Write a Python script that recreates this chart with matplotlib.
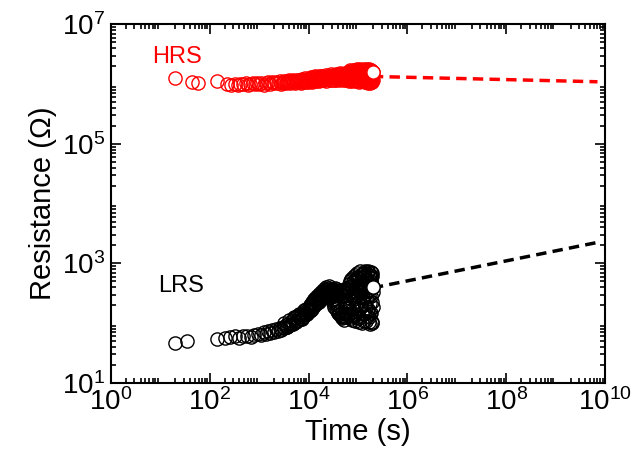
import matplotlib.pyplot as plt
import matplotlib.ticker as mticker
import numpy as np

plt.rcParams['font.family'] = ['Liberation Sans', 'DejaVu Sans']
plt.rcParams['mathtext.fontset'] = 'custom'
plt.rcParams['mathtext.rm'] = 'Liberation Sans'
plt.rcParams['mathtext.it'] = 'Liberation Sans'
plt.rcParams['mathtext.bf'] = 'Liberation Sans'

# HRS retention data (time in s, resistance in Mohm)
hrs_t = [20, 44, 58, 140, 220,
         270, 320, 370, 420, 480, 540, 600, 670, 740, 820, 900, 980,
         1100, 1250, 1400, 1550, 1700, 1850, 2000, 2200, 2400, 2600, 2800, 3000,
         3250, 3500, 3750, 4000, 4300, 4600, 4900, 5200, 5500, 5800, 6100, 6500,
         6900, 7300, 7700, 8100, 8500, 9000, 9500,
         10000, 10800, 11600, 12400, 13200, 14000, 15000, 16000, 17000, 18000,
         19000, 20000, 21500, 23000, 24500, 26000, 27500, 29000, 31000, 33000,
         35000, 37000, 39000, 41000, 43000, 45000, 47500, 50000, 52500, 55000,
         57500, 60000,
         62000, 64000, 66000, 68000, 70000, 72000, 74000, 76000, 78000, 80000,
         83000, 86000, 89000, 92000, 95000, 98000, 101000, 104000, 107000, 110000,
         114000, 118000, 122000, 126000, 130000, 134000, 138000, 142000, 146000,
         150000, 154000, 158000, 162000, 166000, 170000, 174000, 178000, 182000,
         186000, 190000, 194000, 197000, 200000]
hrs_r = [1.26, 1.07, 1.03, 1.12, 1.02,
         0.98, 1.00, 0.97, 1.02, 0.99, 1.03, 0.98, 1.01, 1.04, 0.99, 1.03, 1.00,
         1.05, 0.98, 1.04, 1.07, 1.00, 1.08, 1.03, 1.10, 1.05, 1.12, 1.02, 1.08,
         1.14, 1.06, 1.10, 1.16, 1.04, 1.12, 1.18, 1.08, 1.15, 1.20, 1.10, 1.17,
         1.06, 1.22, 1.12, 1.18, 1.25, 1.10, 1.20,
         1.15, 1.28, 1.10, 1.22, 1.30, 1.14, 1.25, 1.35, 1.18, 1.28,
         1.38, 1.20, 1.32, 1.15, 1.40, 1.26, 1.35, 1.18, 1.42, 1.28,
         1.20, 1.45, 1.32, 1.22, 1.48, 1.30, 1.38, 1.20, 1.50, 1.32,
         1.42, 1.25,
         1.55, 1.35, 1.22, 1.60, 1.42, 1.28, 1.65, 1.38, 1.18, 1.52,
         1.70, 1.30, 1.45, 1.15, 1.62, 1.35, 1.72, 1.25, 1.50, 1.12,
         1.68, 1.40, 1.22, 1.75, 1.30, 1.55, 1.10, 1.70, 1.42,
         1.20, 1.78, 1.35, 1.05, 1.60, 1.25, 1.72, 1.12, 1.50,
         1.08, 1.65, 1.30, 1.20, 1.60]

# second HRS sweep (dense part)
hrs_t2 = [3100, 3600, 4100, 4700, 5300, 5900, 6700, 7500, 8300, 9200, 9800,
          10400, 11200, 12000, 12800, 13600, 14500, 15500, 16500, 17500, 18500,
          19500, 20800, 22200, 23800, 25200, 26800, 28200, 30000, 32000, 34000,
          36000, 38000, 40000, 42000, 44000, 46500, 49000, 51500, 54000, 56500,
          59000,
          61000, 63000, 65000, 67000, 69000, 71000, 73000, 75000, 77000, 79000,
          82000, 85000, 88000, 91000, 94000, 97000, 100000, 103000, 106000,
          109000, 112000, 116000, 120000, 124000, 128000, 132000, 136000, 140000,
          144000, 148000, 152000, 156000, 160000, 164000, 168000, 172000, 176000,
          180000, 184000, 188000, 192000, 196000]
hrs_r2 = [1.06, 1.12, 1.08, 1.15, 1.05, 1.13, 1.18, 1.09, 1.16, 1.22, 1.08,
          1.20, 1.32, 1.14, 1.26, 1.36, 1.20, 1.30, 1.15, 1.40, 1.24,
          1.33, 1.18, 1.43, 1.27, 1.36, 1.20, 1.46, 1.30, 1.40, 1.16,
          1.50, 1.27, 1.36, 1.18, 1.52, 1.24, 1.44, 1.30, 1.56, 1.16,
          1.40,
          1.30, 1.62, 1.45, 1.15, 1.70, 1.36, 1.50, 1.12, 1.66, 1.28,
          1.76, 1.40, 1.20, 1.58, 1.32, 1.80, 1.45, 1.10, 1.62,
          1.28, 1.78, 1.50, 1.15, 1.66, 1.35, 1.80, 1.22, 1.58,
          1.08, 1.70, 1.30, 1.48, 1.14, 1.82, 1.40, 1.06, 1.62,
          1.26, 1.75, 1.18, 1.50, 1.10]

# LRS retention data (time in s, resistance in ohm)
lrs_t = [20, 35, 140, 200, 260, 330, 400, 480, 570, 680, 800, 950,
         1100, 1250, 1400, 1550, 1700, 1850, 2000, 2200, 2400, 2600, 2800, 3000,
         3250, 3500, 3750, 4000, 4300, 4600, 4900, 5200, 5500, 5800, 6100, 6500,
         6900, 7300, 7700, 8100, 8500, 9000, 9500,
         10000, 10500, 11000, 11500, 12000, 12500, 13000, 13600, 14200, 14800,
         15400, 16000, 16700, 17400, 18100, 18800, 19500, 20300, 21100, 21900,
         22700, 23500, 24400, 25300, 26200, 27100, 28000, 29000, 30000,
         31000, 32000, 33000, 34000, 35000, 36000, 37000, 38000, 39000, 40000,
         41500, 43000, 44500, 46000, 47500, 49000, 50500, 52000, 53500, 55000,
         56500, 58000, 59500,
         61000, 63000, 65000, 67000, 69000, 71000, 73000, 75000, 77000, 79000,
         81000, 83000, 85000, 87000, 89000, 91000, 93000, 95000, 97000, 99000,
         101000, 104000, 107000, 110000, 113000, 116000, 119000, 122000, 125000,
         128000, 131000, 134000, 137000, 140000, 143000, 146000, 149000, 152000,
         155000, 158000, 161000, 164000, 167000, 170000, 173000, 176000, 179000,
         182000, 185000, 188000, 191000, 194000, 197000, 200000]
lrs_r = [47, 50, 55, 57, 58, 60, 57, 62, 60, 58, 63, 66,
         64, 70, 66, 73, 69, 76, 72, 80, 75, 84, 78, 88,
         82, 95, 86, 102, 92, 110, 97, 120, 104, 130, 112, 140,
         118, 150, 125, 165, 135, 175, 145,
         190, 160, 210, 175, 230, 185, 250, 200, 275, 215,
         300, 230, 320, 245, 290, 340, 260, 380, 270, 330,
         400, 285, 350, 310, 420, 290, 360, 320, 300,
         280, 330, 250, 360, 220, 340, 200, 320, 180, 300,
         160, 350, 140, 310, 125, 330, 130, 290, 200, 145,
         340, 180, 380,
         230, 320, 190, 380, 260, 150, 420, 300, 210, 480,
         170, 350, 250, 520, 140, 400, 290, 600, 180, 450,
         230, 560, 120, 330, 650, 200, 470, 150, 700,
         260, 380, 110, 620, 310, 180, 540, 130, 420,
         250, 720, 160, 480, 105, 360, 650, 220, 140,
         560, 290, 100, 440, 680, 190, 410]

# second LRS sweep (dense part)
lrs_t2 = [3200, 3600, 4100, 4500, 5100, 5700, 6300, 7000, 7500, 8300, 8800,
          9300, 9800,
          10200, 10800, 11300, 11800, 12300, 12800, 13300, 13900, 14500, 15100,
          15700, 16300, 17000, 17700, 18500, 19200, 20000, 20700, 21500, 22300,
          23100, 24000, 24800, 25700, 26600, 27600, 28500, 29500,
          30500, 31500, 32500, 33500, 34500, 35500, 36500, 37500, 38500, 39500,
          40500, 42000, 43500, 45000, 46500, 48000, 49500, 51000, 52500, 54000,
          55500, 57000, 58500, 60000,
          62000, 64000, 66000, 68000, 70000, 72000, 74000, 76000, 78000, 80000,
          82000, 84000, 86000, 88000, 90000, 92000, 94000, 96000, 98000, 100000,
          103000, 106000, 109000, 112000, 115000, 118000, 121000, 124000, 127000,
          130000, 133000, 136000, 139000, 142000, 145000, 148000, 151000, 154000,
          157000, 160000, 163000, 166000, 169000, 172000, 175000, 178000, 181000,
          184000, 187000, 190000, 193000, 196000, 199000]
lrs_r2 = [100, 88, 115, 98, 125, 108, 128, 135, 118, 150, 140,
          160, 170,
          175, 200, 165, 220, 195, 240, 210, 260, 230, 250,
          280, 260, 300, 270, 310, 280, 350, 300, 360, 320,
          380, 340, 300, 390, 330, 270, 350, 240,
          380, 220, 360, 190, 390, 170, 340, 160, 370, 150,
          320, 140, 360, 130, 300, 120, 350, 115, 330, 125,
          380, 140, 350, 160,
          400, 140, 450, 130, 500, 120, 550, 115, 330, 600,
          130, 270, 640, 110, 380, 200, 700, 125, 310, 560,
          105, 420, 750, 180, 330, 600, 100, 450, 270,
          680, 140, 390, 760, 210, 520, 110, 350, 660,
          170, 460, 740, 125, 300, 590, 98, 400, 720,
          150, 500, 230, 620, 105, 330]

# extrapolation lines
hrs_fit_t = [2e5, 7e9]
hrs_fit_r = [1.35e6, 1.1e6]
lrs_fit_t = [2e5, 7e9]
lrs_fit_r = [390, 2250]

fig = plt.figure(figsize=(6.33, 4.71), dpi=100)
ax = fig.add_axes([0.175, 0.187, 0.781, 0.761])

mk = dict(marker='o', ms=9.5, mfc='none', mew=1.0, ls='none', zorder=2)
ax.plot(hrs_fit_t, hrs_fit_r, '--', color='red', lw=2.5, dashes=(3, 1.8), zorder=1)
ax.plot(lrs_fit_t, lrs_fit_r, '--', color='black', lw=2.5, dashes=(3, 1.8), zorder=1)
ax.plot(hrs_t2, [v * 1e6 for v in hrs_r2], mec='red', **mk)
ax.plot(hrs_t, [v * 1e6 for v in hrs_r], mec='red', **mk)
ax.plot(lrs_t2, lrs_r2, mec='black', **mk)
ax.plot(lrs_t, lrs_r, mec='black', **mk)
# last measured point drawn on top, white filled
ax.plot(hrs_t[-1], hrs_r[-1] * 1e6, 'o', ms=9.5, mfc='white', mec='red', mew=1.0, zorder=3)
ax.plot(lrs_t[-1], lrs_r[-1], 'o', ms=9.5, mfc='white', mec='black', mew=1.0, zorder=3)

ax.set_xscale('log')
ax.set_yscale('log')
ax.set_xlim(1, 1e10)
ax.set_ylim(10, 1e7)
ax.set_xticks([1e0, 1e2, 1e4, 1e6, 1e8, 1e10])
ax.set_yticks([1e1, 1e3, 1e5, 1e7])
ax.set_xticklabels([r'$10^{%d}$' % p for p in [0, 2, 4, 6, 8, 10]])
ax.set_yticklabels([r'$10^{%d}$' % p for p in [1, 3, 5, 7]])
ax.xaxis.set_minor_locator(mticker.LogLocator(base=10, subs=np.arange(2, 10), numticks=100))
ax.yaxis.set_minor_locator(mticker.LogLocator(base=10, subs=np.arange(2, 10), numticks=100))
ax.xaxis.set_minor_formatter(mticker.NullFormatter())
ax.yaxis.set_minor_formatter(mticker.NullFormatter())

ax.tick_params(which='both', direction='in', top=True, right=True, labelsize=20, width=1.2)
ax.tick_params(which='major', length=7, pad=4)
ax.tick_params(which='minor', length=3.5)
for s in ax.spines.values():
    s.set_linewidth(1.5)

ax.set_xlabel('Time (s)', fontsize=21, labelpad=1)
ax.set_ylabel('Resistance (Ω)', fontsize=21, labelpad=4)

ax.text(6.8, 2.3e6, 'HRS', color='red', fontsize=17)
ax.text(9, 330, 'LRS', color='black', fontsize=17)

fig.savefig('out.png', dpi=100)
